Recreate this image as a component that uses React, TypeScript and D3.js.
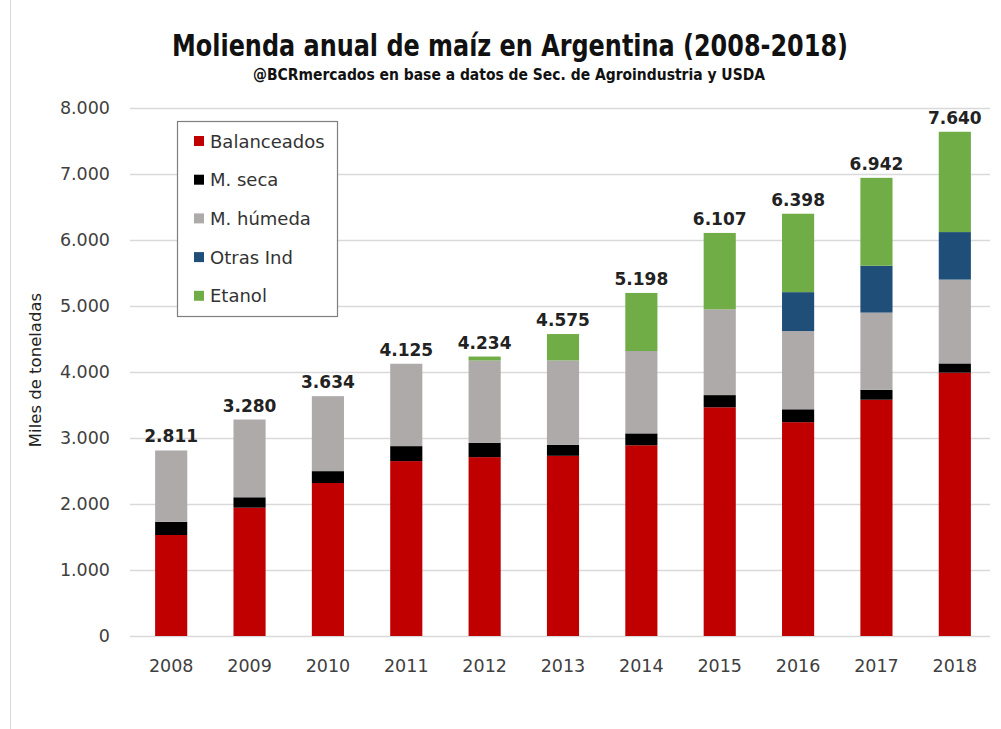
import React from "react";
import * as d3 from "d3";

const years = ["2008", "2009", "2010", "2011", "2012", "2013", "2014", "2015", "2016", "2017", "2018"];
const series = ["Balanceados", "M. seca", "M. húmeda", "Otras Ind", "Etanol"];
const colors = ["#C00000", "#000000", "#AEAAAA", "#1F4E79", "#70AD47"];

// miles de toneladas
const balanceados = [1530, 1944, 2318, 2650, 2710, 2730, 2890, 3465, 3240, 3580, 3990];
const mSeca = [200, 158, 180, 227, 215, 165, 180, 185, 195, 150, 140];
const mHumeda = [1081, 1178, 1136, 1248, 1249, 1280, 1248, 1300, 1185, 1170, 1270];
const otrasInd = [0, 0, 0, 0, 0, 0, 0, 0, 590, 710, 720];
const etanol = [0, 0, 0, 0, 60, 400, 880, 1157, 1188, 1332, 1520];
const totals = [2811, 3280, 3634, 4125, 4234, 4575, 5198, 6107, 6398, 6942, 7640];
const yTicks = [0, 1000, 2000, 3000, 4000, 5000, 6000, 7000, 8000];

const W = 1001;
const H = 729;
const font = "'DejaVu Sans', Verdana, sans-serif";
const condensed = "'DejaVu Sans Condensed', 'DejaVu Sans', sans-serif";
const fmt = (v: number) => d3.format(",")(v).replace(/,/g, ".");

export default function App() {
  const rows = years.map((y, i) => ({
    year: y,
    "Balanceados": balanceados[i],
    "M. seca": mSeca[i],
    "M. húmeda": mHumeda[i],
    "Otras Ind": otrasInd[i],
    "Etanol": etanol[i],
  }));
  const stacked = d3.stack<any>().keys(series)(rows);

  const x = d3.scaleBand().domain(years).range([132, 994]).paddingInner(0.59).paddingOuter(0.295);
  const y = d3.scaleLinear().domain([0, 8000]).range([636, 108]);

  return (
    <svg width={W} height={H} style={{ display: "block", position: "absolute", left: 0, top: 0, background: "#fff" }}>
      <rect x={0} y={0} width={W} height={H} fill="#fff" />
      <line x1={10.5} x2={10.5} y1={0} y2={H} stroke="#d9d9d9" />
      <text x={510} y={56} textAnchor="middle" fontFamily={condensed} fontWeight="bold" fontSize={30} textLength={676} lengthAdjust="spacingAndGlyphs" fill="#111">
        Molienda anual de maíz en Argentina (2008-2018)
      </text>
      <text x={509} y={80} textAnchor="middle" fontFamily={condensed} fontWeight="bold" fontSize={15} textLength={512} lengthAdjust="spacingAndGlyphs" fill="#111">
        @BCRmercados en base a datos de Sec. de Agroindustria y USDA
      </text>

      {yTicks.map((t) => (
        <g key={t}>
          <line x1={130} x2={990} y1={Math.round(y(t)) + 0.5} y2={Math.round(y(t)) + 0.5} stroke="#d9d9d9" strokeWidth={1.5} />
          <text x={110} y={y(t) + 6} textAnchor="end" fontFamily={font} fontSize={17.5} fill="#404040">
            {fmt(t)}
          </text>
        </g>
      ))}

      <text transform={`translate(41,${370}) rotate(-90)`} textAnchor="middle" fontFamily={font} fontSize={16.5} fill="#222">
        Miles de toneladas
      </text>

      {stacked.map((s, si) => (
        <g key={s.key} fill={colors[si]}>
          {s.map((d, i) =>
            d[1] - d[0] > 0 ? (
              <rect key={i} x={x(years[i])!} width={x.bandwidth()} y={y(d[1])} height={y(d[0]) - y(d[1])} />
            ) : null
          )}
        </g>
      ))}

      {years.map((yr, i) => (
        <g key={yr}>
          <text x={x(yr)! + x.bandwidth() / 2} y={y(totals[i]) - 8} textAnchor="middle" fontFamily={font} fontWeight="bold" fontSize={17} fill="#222">
            {fmt(totals[i])}
          </text>
          <text x={x(yr)! + x.bandwidth() / 2} y={672} textAnchor="middle" fontFamily={font} fontSize={17.5} fill="#404040">
            {yr}
          </text>
        </g>
      ))}

      <g>
        <rect x={177.5} y={121.5} width={160} height={195} fill="#fff" stroke="#7f7f7f" strokeWidth={1.2} />
        {series.map((s, i) => (
          <g key={s} transform={`translate(0,${141 + i * 38.7})`}>
            <rect x={194} y={-5} width={10} height={10} fill={colors[i]} />
            <text x={210} y={6.5} fontFamily={font} fontSize={18} fill="#333">
              {s}
            </text>
          </g>
        ))}
      </g>
    </svg>
  );
}
